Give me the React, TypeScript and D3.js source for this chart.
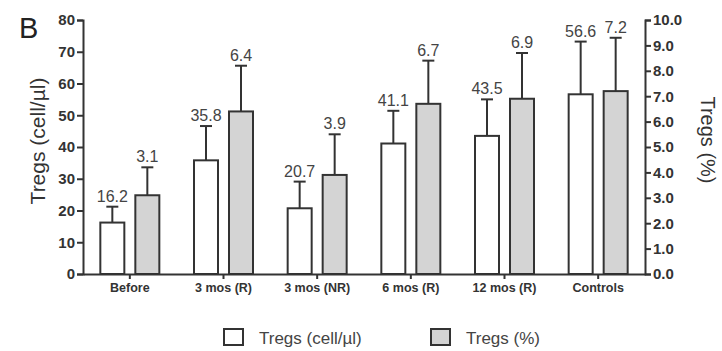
import React from "react";
import * as d3 from "d3";

const categories = ["Before", "3 mos (R)", "3 mos (NR)", "6 mos (R)", "12 mos (R)", "Controls"];
const countValues = [16.2, 35.8, 20.7, 41.1, 43.5, 56.6];
const countErrors = [5.0, 10.8, 8.4, 10.3, 11.5, 16.6];
const pctValues = [3.1, 6.4, 3.9, 6.7, 6.9, 7.2];
const pctErrors = [1.1, 1.8, 1.6, 1.7, 1.8, 2.1];
const leftTicks = [0, 10, 20, 30, 40, 50, 60, 70, 80];
const rightTicks = [0, 1, 2, 3, 4, 5, 6, 7, 8, 9, 10];

const W = 722;
const H = 351;
const margin = { left: 83, right: 77, top: 20, bottom: 77 };
const FONT = "'Liberation Sans', Arial, sans-serif";
const INK = "#333";

const App = () => {
  const svgRef = React.useRef<SVGSVGElement>(null);

  React.useEffect(() => {
    const width = W - margin.left - margin.right;
    const height = H - margin.top - margin.bottom;

    const x = d3.scaleBand().domain(categories).range([0, width]);
    const yL = d3.scaleLinear().domain([0, 80]).range([height, 0]);
    const yR = d3.scaleLinear().domain([0, 10]).range([height, 0]);
    const barW = 24;
    const offset = 17.5;

    const svgEl = d3.select(svgRef.current);
    svgEl.selectAll("*").remove();
    svgEl.style("font-family", FONT);
    const svg = svgEl.append("g").attr("transform", `translate(${margin.left},${margin.top})`);

    // panel letter
    svgEl.append("text").attr("x", 19).attr("y", 38)
      .attr("font-size", 29).attr("fill", "#222").text("B");

    // bars: white (count, left axis) and grey (percent, right axis)
    const series = [
      { vals: countValues, errs: countErrors, y: yL, dx: -offset, fill: "#fff" },
      { vals: pctValues, errs: pctErrors, y: yR, dx: offset, fill: "#d4d4d4" },
    ];
    series.forEach((s) => {
      const g = svg.append("g");
      const data = categories.map((c, i) => ({ c, v: s.vals[i], e: s.errs[i] }));
      const cx = (d: { c: string }) => (x(d.c) as number) + x.bandwidth() / 2 + s.dx;
      // error whiskers
      g.selectAll(".err").data(data).enter().append("line")
        .attr("x1", cx).attr("x2", cx)
        .attr("y1", (d) => s.y(d.v)).attr("y2", (d) => s.y(d.v + d.e))
        .attr("stroke", INK).attr("stroke-width", 2);
      g.selectAll(".cap").data(data).enter().append("line")
        .attr("x1", (d) => cx(d) - 6).attr("x2", (d) => cx(d) + 6)
        .attr("y1", (d) => s.y(d.v + d.e)).attr("y2", (d) => s.y(d.v + d.e))
        .attr("stroke", INK).attr("stroke-width", 2);
      g.selectAll(".bar").data(data).enter().append("rect")
        .attr("x", (d) => cx(d) - barW / 2)
        .attr("y", (d) => s.y(d.v))
        .attr("width", barW)
        .attr("height", (d) => height - s.y(d.v))
        .attr("fill", s.fill).attr("stroke", INK).attr("stroke-width", 2);
      g.selectAll(".lbl").data(data).enter().append("text")
        .attr("x", cx).attr("y", (d) => s.y(d.v + d.e) - 5)
        .attr("text-anchor", "middle").attr("font-size", 16).attr("fill", "#444")
        .text((d) => d.v.toFixed(1));
    });

    // left axis
    const left = svg.append("g").call(d3.axisLeft(yL).tickValues(leftTicks).tickSize(6).tickPadding(2));
    left.select(".domain").attr("stroke", INK).attr("stroke-width", 2);
    left.selectAll("line").attr("stroke", INK).attr("stroke-width", 2);
    left.selectAll("text").attr("font-size", 15).attr("font-weight", "bold").attr("fill", "#333")
      .style("font-family", FONT);

    // right axis
    const right = svg.append("g").attr("transform", `translate(${width},0)`)
      .call(d3.axisRight(yR).tickValues(rightTicks).tickSize(6).tickPadding(2).tickFormat((d) => (d as number).toFixed(1)));
    right.select(".domain").attr("stroke", INK).attr("stroke-width", 2);
    right.selectAll("line").attr("stroke", INK).attr("stroke-width", 2);
    right.selectAll("text").attr("font-size", 15).attr("font-weight", "bold").attr("fill", "#333")
      .style("font-family", FONT);

    // bottom axis
    const bottom = svg.append("g").attr("transform", `translate(0,${height})`)
      .call(d3.axisBottom(x).tickSize(5).tickPadding(4).tickSizeOuter(0));
    bottom.select(".domain").attr("stroke", INK).attr("stroke-width", 2);
    bottom.selectAll("line").attr("stroke", INK).attr("stroke-width", 2);
    bottom.selectAll("text").attr("font-size", 12.5).attr("font-weight", "bold").attr("fill", "#333")
      .style("font-family", FONT);

    // axis titles
    svgEl.append("text")
      .attr("transform", `translate(45,141) rotate(-90)`)
      .attr("text-anchor", "middle").attr("font-size", 21).attr("fill", "#333")
      .text("Tregs (cell/µl)");
    svgEl.append("text")
      .attr("transform", `translate(701,140) rotate(90)`)
      .attr("text-anchor", "middle").attr("font-size", 20).attr("fill", "#333")
      .text("Tregs (%)");

    // legend
    const legend = [
      { label: "Tregs (cell/µl)", fill: "#fff", x: 224 },
      { label: "Tregs (%)", fill: "#d4d4d4", x: 431 },
    ];
    const lg = svgEl.append("g");
    legend.forEach((l) => {
      lg.append("rect").attr("x", l.x).attr("y", 329).attr("width", 19).attr("height", 16)
        .attr("fill", l.fill).attr("stroke", INK).attr("stroke-width", 2);
      lg.append("text").attr("x", l.x + 35).attr("y", 344)
        .attr("font-size", 17).attr("fill", "#444").text(l.label);
    });
  }, []);

  return <svg ref={svgRef} width={W} height={H} style={{ position: "absolute", left: 0, top: 0 }} />;
};

export default App;
